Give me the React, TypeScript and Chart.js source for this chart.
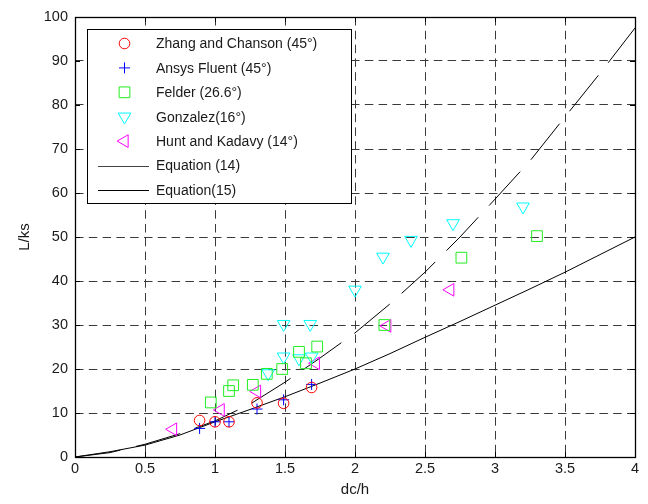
import React, { useEffect, useRef } from 'react';
import { Chart, registerables } from 'chart.js';
import { drawPoint } from 'chart.js/helpers';

Chart.register(...registerables);

// ---- data ----
const zhangX = [0.89, 1.0, 1.1, 1.3, 1.49, 1.69];
const zhangY = [8.3, 8.0, 8.0, 12.3, 12.2, 15.8];

const ansysX = [0.89, 1.0, 1.1, 1.3, 1.49, 1.69];
const ansysY = [6.5, 8.0, 8.0, 10.9, 13.0, 16.5];

const felderX = [0.97, 1.1, 1.13, 1.27, 1.37, 1.48, 1.6, 1.65, 1.73, 2.21, 2.76, 3.3];
const felderY = [12.4, 15.0, 16.3, 16.4, 18.9, 20.0, 23.9, 21.3, 25.1, 30.0, 45.3, 50.2];

const gonzalezX = [1.38, 1.49, 1.49, 1.6, 1.69, 1.68, 2.0, 2.2, 2.4, 2.7, 3.2];
const gonzalezY = [19.0, 22.8, 30.2, 22.4, 22.8, 30.2, 38.0, 45.5, 49.3, 53.1, 56.9];

const huntX = [0.7, 1.04, 1.3, 1.72, 2.23, 2.68];
const huntY = [6.3, 10.7, 14.9, 21.3, 29.8, 38.0];

const eqX = [0, 0.25, 0.5, 0.75, 1.0, 1.25, 1.5, 1.75, 2.0, 2.25, 2.5, 2.75, 3.0, 3.25, 3.5, 3.75, 4.0];
const eq14Y = [0, 1.0, 2.9, 5.3, 8.2, 12.0, 17.0, 22.5, 28.2, 34.8, 42.0, 50.0, 58.6, 67.3, 77.3, 87.2, 97.5];
const eq15Y = [0, 1.2, 2.7, 5.0, 8.0, 10.8, 13.7, 16.8, 20.0, 23.5, 27.2, 30.8, 34.5, 38.2, 42.0, 46.0, 50.0];

const xTickValues = [0, 0.5, 1, 1.5, 2, 2.5, 3, 3.5, 4];
const yTickValues = [0, 10, 20, 30, 40, 50, 60, 70, 80, 90, 100];

const xTitle = 'dc/h';
const yTitle = 'L/ks';

const FONT = "'Liberation Sans', Arial, Helvetica, sans-serif";

const pts = (xs: number[], ys: number[]) => xs.map((x, i) => ({ x, y: ys[i] }));

const legendPlugin = {
  id: 'insideLegend',
  afterDraw(chart: any) {
    const ctx = chart.ctx;
    const opts = chart.options.plugins.insideLegend;
    const { left, top, width, height, rowTop, rowGap, markerX, lineX1, lineX2, textX } = opts;
    ctx.save();
    ctx.fillStyle = '#ffffff';
    ctx.fillRect(left, top, width, height);
    ctx.strokeStyle = '#000000';
    ctx.lineWidth = 1;
    ctx.setLineDash([]);
    ctx.strokeRect(left + 0.5, top + 0.5, width, height);
    const items = opts.order as number[];
    items.forEach((dsIndex, row) => {
      const ds = chart.data.datasets[dsIndex];
      const y = rowTop + row * rowGap;
      if (ds.showLine) {
        ctx.beginPath();
        ctx.strokeStyle = ds.legendColor || ds.borderColor;
        ctx.lineWidth = 1;
        ctx.setLineDash([]);
        ctx.moveTo(lineX1, Math.round(y) + 0.5);
        ctx.lineTo(lineX2, Math.round(y) + 0.5);
        ctx.stroke();
      } else {
        ctx.strokeStyle = ds.borderColor;
        ctx.fillStyle = 'rgba(0,0,0,0)';
        ctx.lineWidth = ds.pointBorderWidth;
        ctx.setLineDash([]);
        drawPoint(ctx, {
          pointStyle: ds.pointStyle,
          rotation: ds.pointRotation || 0,
          radius: ds.pointRadius,
          borderWidth: ds.pointBorderWidth,
        }, markerX, y);
      }
      ctx.fillStyle = '#1a1a1a';
      ctx.font = `14px ${FONT}`;
      ctx.textAlign = 'left';
      ctx.textBaseline = 'middle';
      ctx.fillText(ds.label, textX, y + 1);
    });
    ctx.restore();
  },
};

const framePlugin = {
  id: 'frameBox',
  afterDatasetsDraw(chart: any) {
    const ctx = chart.ctx;
    const { left, right, top, bottom } = chart.chartArea;
    const xs = chart.scales.x;
    const ys = chart.scales.y;
    const len = 5;
    ctx.save();
    ctx.strokeStyle = '#000000';
    ctx.lineWidth = 1;
    ctx.setLineDash([]);
    ctx.beginPath();
    xTickValues.forEach((v) => {
      const px = Math.round(xs.getPixelForValue(v)) + 0.5;
      ctx.moveTo(px, bottom);
      ctx.lineTo(px, bottom - len);
      ctx.moveTo(px, top);
      ctx.lineTo(px, top + len);
    });
    yTickValues.forEach((v) => {
      const py = Math.round(ys.getPixelForValue(v)) + 0.5;
      ctx.moveTo(left, py);
      ctx.lineTo(left + len, py);
      ctx.moveTo(right, py);
      ctx.lineTo(right - len, py);
    });
    ctx.stroke();
    ctx.lineWidth = 1.3;
    ctx.strokeRect(Math.round(left) + 0.5, Math.round(top) + 0.5, Math.round(right - left), Math.round(bottom - top));
    ctx.restore();
  },
};

export default function App() {
  const ref = useRef<HTMLCanvasElement | null>(null);

  useEffect(() => {
    if (!ref.current) return;
    const scatterBase = {
      showLine: false,
      backgroundColor: 'rgba(0,0,0,0)',
      pointBackgroundColor: 'rgba(0,0,0,0)',
      pointBorderWidth: 1,
      pointHoverRadius: 0,
    };
    const chart = new Chart(ref.current, {
      type: 'scatter',
      data: {
        datasets: [
          { ...scatterBase, label: 'Zhang and Chanson (45°)', data: pts(zhangX, zhangY), borderColor: '#ff0000', pointBorderColor: '#ff0000', pointStyle: 'circle', pointRadius: 5.3 },
          { ...scatterBase, label: 'Ansys Fluent (45°)', data: pts(ansysX, ansysY), borderColor: '#0000ff', pointBorderColor: '#0000ff', pointStyle: 'cross', pointRadius: 5.5 },
          { ...scatterBase, label: 'Felder (26.6°)', data: pts(felderX, felderY), borderColor: '#22ee22', pointBorderColor: '#22ee22', pointStyle: 'rect', pointRadius: 7.6 },
          { ...scatterBase, label: 'Gonzalez(16°)', data: pts(gonzalezX, gonzalezY), borderColor: '#00ffff', pointBorderColor: '#00ffff', pointStyle: 'triangle', pointRotation: 180, pointRadius: 7.3 },
          { ...scatterBase, label: 'Hunt and Kadavy (14°)', data: pts(huntX, huntY), borderColor: '#ff00ff', pointBorderColor: '#ff00ff', pointStyle: 'triangle', pointRotation: 270, pointRadius: 7.3 },
          { label: 'Equation (14)', data: pts(eqX, eq14Y), showLine: true, borderColor: '#000000', legendColor: '#444444', borderWidth: 1, borderDash: [46, 16], pointRadius: 0, pointHoverRadius: 0, tension: 0, fill: false } as any,
          { label: 'Equation(15)', data: pts(eqX, eq15Y), showLine: true, borderColor: '#000000', borderWidth: 1, pointRadius: 0, pointHoverRadius: 0, tension: 0, fill: false },
        ],
      },
      options: {
        responsive: false,
        animation: false,
        events: [],
        layout: { padding: { top: 17, right: 13, left: 0, bottom: 0 } },
        scales: {
          x: {
            type: 'linear',
            min: 0,
            max: 4,
            afterFit: (s: any) => { s.height = 47; },
            afterBuildTicks: (s: any) => { s.ticks = xTickValues.map((v) => ({ value: v })); },
            ticks: {
              padding: 3,
              color: '#1a1a1a',
              font: { family: FONT, size: 14.5 },
              callback: (v: any) => String(v),
              maxRotation: 0,
              autoSkip: false,
            },
            grid: { color: '#3a3a3a', lineWidth: 1, drawTicks: false },
            border: { display: false, dash: [8.5, 5.3] },
            title: { display: true, text: xTitle, color: '#1a1a1a', font: { family: FONT, size: 15 }, padding: { top: 0, bottom: 5 } },
          },
          y: {
            type: 'linear',
            min: 0,
            max: 100,
            afterFit: (s: any) => { s.width = 75; },
            afterBuildTicks: (s: any) => { s.ticks = yTickValues.map((v) => ({ value: v })); },
            ticks: {
              padding: 7,
              color: '#1a1a1a',
              font: { family: FONT, size: 14.5 },
              callback: (v: any) => String(v),
              autoSkip: false,
            },
            grid: { color: '#3a3a3a', lineWidth: 1, drawTicks: false },
            border: { display: false, dash: [8.5, 5.3] },
            title: { display: true, text: yTitle, color: '#1a1a1a', font: { family: FONT, size: 15 }, padding: { top: 16, bottom: 0 } },
          },
        },
        plugins: {
          legend: { display: false },
          tooltip: { enabled: false },
          insideLegend: {
            left: 87, top: 29, width: 264, height: 174,
            rowTop: 43.5, rowGap: 24.4,
            markerX: 124.5, lineX1: 98, lineX2: 149, textX: 156,
            order: [0, 1, 2, 3, 4, 5, 6],
          },
        } as any,
      },
      plugins: [framePlugin, legendPlugin],
    } as any);
    return () => chart.destroy();
  }, []);

  return (
    <div style={{ position: 'fixed', left: 0, top: 0, width: 648, height: 504, background: '#ffffff' }}>
      <canvas ref={ref} width={648} height={504} style={{ width: 648, height: 504, display: 'block' }} />
    </div>
  );
}
